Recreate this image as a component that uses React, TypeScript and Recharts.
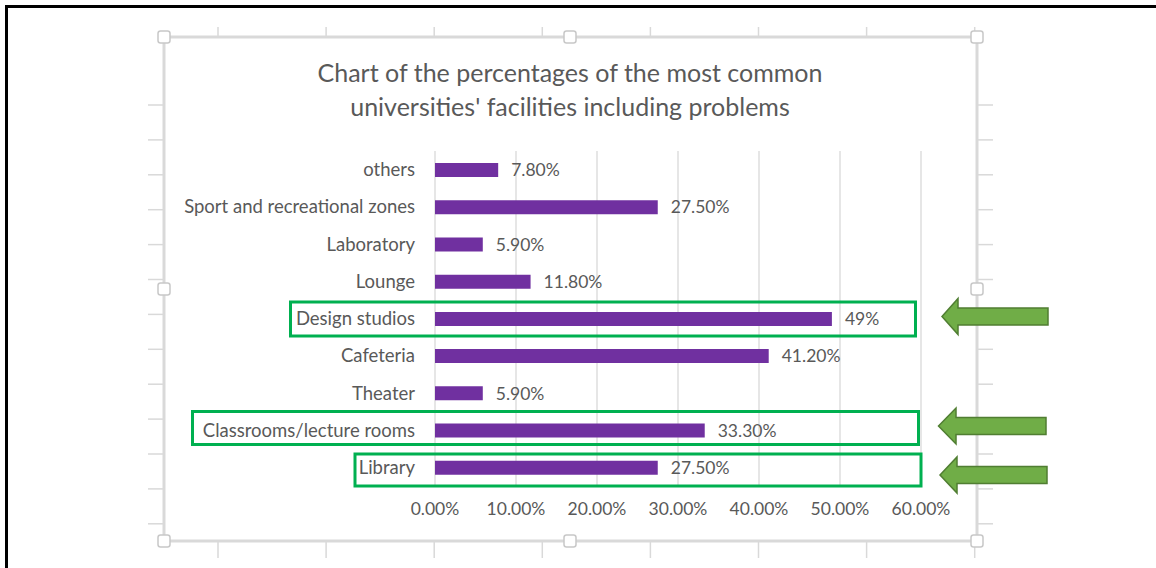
import React from "react";
import { BarChart, Bar, XAxis, YAxis, CartesianGrid, LabelList } from "recharts";

const categories = [
  "others",
  "Sport and recreational zones",
  "Laboratory",
  "Lounge",
  "Design studios",
  "Cafeteria",
  "Theater",
  "Classrooms/lecture rooms",
  "Library",
];
const values = [7.8, 27.5, 5.9, 11.8, 49, 41.2, 5.9, 33.3, 27.5];
const valueLabels = ["7.80%", "27.50%", "5.90%", "11.80%", "49%", "41.20%", "5.90%", "33.30%", "27.50%"];
const xTicks = [0, 10, 20, 30, 40, 50, 60];
const xTickLabels = ["0.00%", "10.00%", "20.00%", "30.00%", "40.00%", "50.00%", "60.00%"];
const titleLines = [
  "Chart of the percentages of the most common",
  "universities' facilities including problems",
];

const data = categories.map((c, i) => ({ name: c, value: values[i], label: valueLabels[i] }));

const FONT = "Lato, 'Open Sans', sans-serif";
const TEXT = "#595959";
const GRID = "#d9d9d9";

const W = 1156;
const H = 568;

function Decor() {
  const leftYs = Array.from({ length: 13 }, (_, k) => 105 + k * 34.9);
  const topXs = Array.from({ length: 8 }, (_, k) => 218 + k * 108.1);
  const handles: [number, number][] = [
    [164, 37], [570, 37], [977, 37],
    [164, 289], [977, 289],
    [164, 541], [570, 541], [977, 541],
  ];
  return (
    <svg width={W} height={H} style={{ position: "absolute", left: 0, top: 0 }}>
      {leftYs.map((y, i) => (
        <g key={"l" + i}>
          <line x1={148} x2={163} y1={y} y2={y} stroke={GRID} strokeWidth={1.5} />
          <line x1={978} x2={993} y1={y} y2={y} stroke={GRID} strokeWidth={1.5} />
        </g>
      ))}
      {topXs.map((x, i) => (
        <g key={"t" + i}>
          <line x1={x} x2={x} y1={27} y2={36} stroke={GRID} strokeWidth={1.5} />
          <line x1={x} x2={x} y1={542} y2={558} stroke={GRID} strokeWidth={1.5} />
        </g>
      ))}
      <rect x={164} y={37} width={813} height={504} fill="none" stroke={GRID} strokeWidth={3} />
      {handles.map(([x, y], i) => (
        <rect key={"h" + i} x={x - 6} y={y - 6} width={12} height={12} rx={2.5} fill="#fff" stroke="#c8c8c8" strokeWidth={1.5} />
      ))}
    </svg>
  );
}

function Annotations() {
  const boxes = [
    { x: 290.5, y: 302, w: 625, h: 34 },
    { x: 192.5, y: 411.5, w: 726, h: 33 },
    { x: 355, y: 454, w: 566, h: 32 },
  ];
  const arrows = [
    { tip: 942, cy: 316.5, base: 958, right: 1048, hh: 18, bh: 8.5 },
    { tip: 938.5, cy: 426, base: 956, right: 1046, hh: 18, bh: 8.5 },
    { tip: 940, cy: 475, base: 957, right: 1047, hh: 18, bh: 8.5 },
  ];
  return (
    <svg width={W} height={H} style={{ position: "absolute", left: 0, top: 0, pointerEvents: "none" }}>
      {boxes.map((b, i) => (
        <rect key={"b" + i} x={b.x} y={b.y} width={b.w} height={b.h} fill="none" stroke="#00b050" strokeWidth={3} />
      ))}
      {arrows.map((a, i) => (
        <polygon
          key={"a" + i}
          points={[
            [a.tip, a.cy],
            [a.base, a.cy - a.hh],
            [a.base, a.cy - a.bh],
            [a.right, a.cy - a.bh],
            [a.right, a.cy + a.bh],
            [a.base, a.cy + a.bh],
            [a.base, a.cy + a.hh],
          ]
            .map((p) => p.join(","))
            .join(" ")}
          fill="#70ad47"
          stroke="#507e32"
          strokeWidth={1.5}
        />
      ))}
    </svg>
  );
}

export default function App() {
  return (
    <div style={{ position: "fixed", left: 0, top: 0, width: W, height: H, background: "#fff", overflow: "hidden" }}>
      <div
        style={{
          position: "absolute",
          left: 5,
          top: 5,
          width: W,
          height: H,
          borderTop: "3px solid #000",
          borderLeft: "3px solid #000",
        }}
      />
      <Decor />
      <div
        style={{
          position: "absolute",
          left: 170,
          width: 800,
          top: 55,
          textAlign: "center",
          fontFamily: FONT,
          fontSize: 25,
          lineHeight: "34px",
          color: TEXT,
        }}
      >
        {titleLines.map((t, i) => (
          <div key={i}>{t}</div>
        ))}
      </div>
      <div style={{ position: "absolute", left: 0, top: 0 }}>
        <BarChart
          width={W}
          height={H}
          data={data}
          layout="vertical"
          margin={{ top: 151, right: W - 921, bottom: 42, left: 0 }}
        >
          <CartesianGrid horizontal={false} vertical={true} stroke={GRID} strokeWidth={1.3} />
          <XAxis
            type="number"
            dataKey="value"
            domain={[0, 60]}
            ticks={xTicks}
            tickFormatter={(v: number) => xTickLabels[xTicks.indexOf(v)] ?? ""}
            axisLine={false}
            tickLine={false}
            tickSize={0}
            tickMargin={17}
            height={40}
            interval={0}
            tick={{ fill: TEXT, fontSize: 17.5, fontFamily: FONT }}
          />
          <YAxis
            type="category"
            dataKey="name"
            width={435}
            axisLine={false}
            tickLine={false}
            tickSize={0}
            tickMargin={20}
            interval={0}
            tick={{ fill: TEXT, fontSize: 18.5, fontFamily: FONT }}
          />
          <Bar dataKey="value" fill="#7030a0" barSize={14} isAnimationActive={false}>
            <LabelList
              dataKey="label"
              position="right"
              offset={13}
              fill={TEXT}
              fontSize={17.5}
              fontFamily={FONT}
            />
          </Bar>
        </BarChart>
      </div>
      <Annotations />
    </div>
  );
}
